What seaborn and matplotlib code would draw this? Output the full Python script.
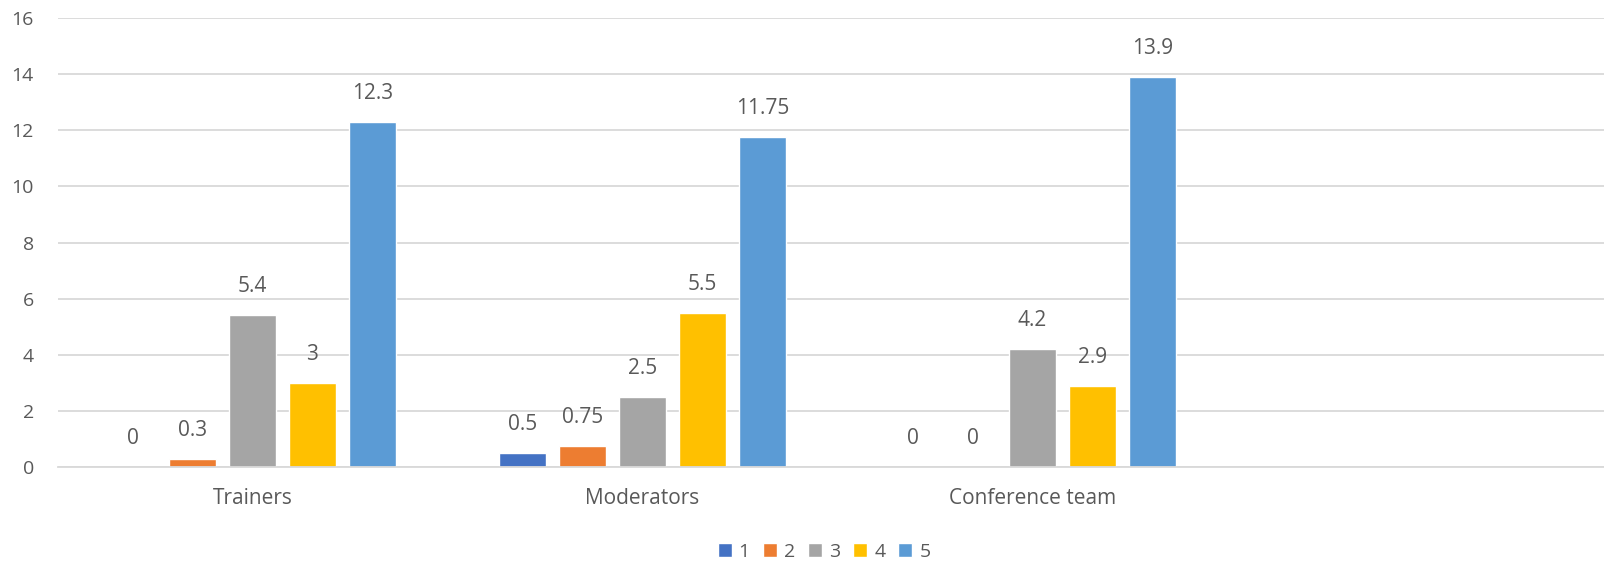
import pandas as pd
import seaborn as sns
import matplotlib.pyplot as plt

groups = ["Trainers", "Moderators", "Conference team"]
series = ["1", "2", "3", "4", "5"]
s1 = [0, 0.5, 0]
s2 = [0.3, 0.75, 0]
s3 = [5.4, 2.5, 4.2]
s4 = [3, 5.5, 2.9]
s5 = [12.3, 11.75, 13.9]
labels = [["0", "0.5", "0"], ["0.3", "0.75", "0"], ["5.4", "2.5", "4.2"],
          ["3", "5.5", "2.9"], ["12.3", "11.75", "13.9"]]
colors = ["#4472C4", "#ED7D31", "#A5A5A5", "#FFC000", "#5B9BD5"]

rows = []
for name, vals in zip(series, [s1, s2, s3, s4, s5]):
    for g, v in zip(groups, vals):
        rows.append({"group": g, "series": name, "value": v})
df = pd.DataFrame(rows)

sns.set_style("white")
plt.rcParams["font.family"] = ["Open Sans", "DejaVu Sans"]
text_col = "#595959"

fig = plt.figure(figsize=(16.04, 5.63), dpi=100)
# plot area runs a bit past the right edge of the picture (cropped original)
ax = fig.add_axes([57.5 / 1604, 1 - 467 / 563, 1560 / 1604, 449 / 563])

# 4 category slots, the last one is empty like in the excel original
sns.barplot(data=df, x="group", y="value", hue="series", order=groups,
            hue_order=series, palette=colors, width=0.769, gap=0.217,
            saturation=1, ax=ax, legend=True)

for cont, labs in zip(ax.containers, labels):
    ax.bar_label(cont, labels=labs, padding=13, fontsize=15, color=text_col)

ax.set_xlim(-0.5, 3.5)
ax.set_ylim(0, 16)
ax.set_yticks(range(0, 17, 2))
ax.grid(axis="y", color="#D9D9D9", linewidth=1.3)
ax.set_axisbelow(True)
for s in ["top", "right", "left"]:
    ax.spines[s].set_visible(False)
ax.spines["bottom"].set_color("#D9D9D9")
ax.spines["bottom"].set_linewidth(1.3)
ax.tick_params(axis="x", length=0, labelsize=15, colors=text_col, pad=15)
ax.tick_params(axis="y", length=0, labelsize=14, colors=text_col, pad=17)
ax.set_xlabel("")
ax.set_ylabel("")

h, l = ax.get_legend_handles_labels()
ax.legend(h, l, loc="center", bbox_to_anchor=(824 / 1604, 1 - 552 / 563),
          bbox_transform=fig.transFigure, ncol=5, frameon=False,
          fontsize=14, labelcolor=text_col,
          handlelength=0.72, handleheight=0.72, handletextpad=0.36,
          columnspacing=0.67, borderpad=0)

fig.savefig("out.png", dpi=100)
